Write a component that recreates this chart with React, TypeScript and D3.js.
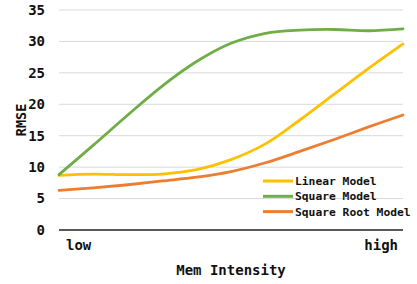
import React from 'react';
import * as d3 from 'd3';

const steps = [0, 1, 2, 3, 4, 5, 6, 7, 8, 9, 10];
const linearModel = [8.7, 8.9, 8.8, 8.9, 9.6, 11.2, 13.7, 17.5, 21.6, 25.7, 29.6];
const squareModel = [8.8, 13.5, 18.3, 22.9, 26.8, 29.7, 31.3, 31.8, 31.9, 31.7, 32.0];
const squareRootModel = [6.3, 6.7, 7.2, 7.8, 8.4, 9.3, 10.7, 12.5, 14.4, 16.4, 18.3];
const yTicks = [0, 5, 10, 15, 20, 25, 30, 35];
const seriesNames = ['Linear Model', 'Square Model', 'Square Root Model'];
const colors = ['#FFC000', '#70AD47', '#ED7D31'];

const font = '"DejaVu Sans Mono", monospace';

export default function App() {
  const width = 417;
  const height = 284;
  const x = d3.scaleLinear().domain([0, 10]).range([59, 403]);
  const y = d3.scaleLinear().domain([0, 35]).range([230, 10]);

  const line = d3
    .line<number>()
    .x((d, i) => x(steps[i]))
    .y((d) => y(d))
    .curve(d3.curveCatmullRom.alpha(0.5));

  // draw order: orange, yellow, green on top
  const series = [linearModel, squareModel, squareRootModel];
  const drawOrder = [2, 0, 1];

  return (
    <svg width={width} height={height} style={{ position: 'absolute', left: 0, top: 0 }}>
      <rect width={width} height={height} fill="#fff" />
      {yTicks.map((t) => (
        <g key={t}>
          {t > 0 && (
            <line x1={59} x2={403} y1={y(t)} y2={y(t)} stroke="#d9d9d9" strokeWidth={1} />
          )}
          <text
            x={45}
            y={y(t)}
            dy="0.35em"
            textAnchor="end"
            fontFamily={font}
            fontWeight="bold"
            fontSize={14}
            fill="#111"
          >
            {t}
          </text>
        </g>
      ))}
      {drawOrder.map((k) => (
        <path
          key={k}
          d={line(series[k]) || ''}
          fill="none"
          stroke={colors[k]}
          strokeWidth={2.8}
          strokeLinecap="round"
        />
      ))}
      <line x1={59} x2={403} y1={y(0)} y2={y(0)} stroke="#222" strokeWidth={1.5} />
      <text x={66} y={250} fontFamily={font} fontWeight="bold" fontSize={14} fill="#111">
        low
      </text>
      <text x={398} y={250} textAnchor="end" fontFamily={font} fontWeight="bold" fontSize={14} fill="#111">
        high
      </text>
      <text x={231} y={275} textAnchor="middle" fontFamily={font} fontWeight="bold" fontSize={14} fill="#111">
        Mem Intensity
      </text>
      <text
        transform="translate(26,120) rotate(-90)"
        textAnchor="middle"
        fontFamily={font}
        fontWeight="bold"
        fontSize={13.5}
        fill="#111"
      >
        RMSE
      </text>
      {seriesNames.map((name, i) => (
        <g key={name} transform={`translate(263,${181 + i * 15.3})`}>
          <line x1={0} x2={30} y1={0} y2={0} stroke={colors[i]} strokeWidth={3} />
          <text x={32} y={0} dy="0.35em" fontFamily={font} fontWeight="bold" fontSize={11.3} fill="#111">
            {name}
          </text>
        </g>
      ))}
    </svg>
  );
}
